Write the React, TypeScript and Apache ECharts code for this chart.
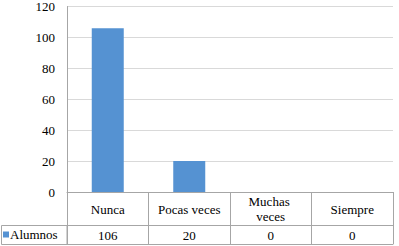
import React, { useEffect, useRef } from "react";
import * as echarts from "echarts";

const categories = ["Nunca", "Pocas veces", "Muchas veces", "Siempre"];
const alumnos = [106, 20, 0, 0];
const seriesName = "Alumnos";
const yTicks = { min: 0, max: 120, interval: 20 };

const FONT = "Liberation Serif";
const BORDER = "#A6A6A6";

export default function App() {
  const ref = useRef<HTMLDivElement>(null);
  useEffect(() => {
    if (!ref.current) return;
    const chart = echarts.init(ref.current, undefined, { renderer: "svg" });
    chart.setOption({
      animation: false,
      grid: { left: 67, right: 6, top: 6, bottom: 54 },
      legend: {
        show: true,
        left: 3,
        top: 228,
        padding: 0,
        icon: "rect",
        itemWidth: 6,
        itemHeight: 6,
        selectedMode: false,
        textStyle: { fontFamily: FONT, fontSize: 13, color: "#000", padding: [0, 0, 0, -4] },
        data: [seriesName],
      },
      xAxis: [
        {
          type: "category",
          data: categories,
          position: "bottom",
          axisLine: { show: true, lineStyle: { color: BORDER, width: 1 } },
          axisTick: { show: true, length: 52, lineStyle: { color: BORDER, width: 1 } },
          axisLabel: {
            interval: 0,
            fontFamily: FONT,
            fontSize: 13,
            color: "#000",
            margin: 17,
            verticalAlign: "middle",
            lineHeight: 15,
            width: 70,
            overflow: "break",
          },
          splitLine: { show: false },
        },
        {
          type: "category",
          data: categories,
          position: "bottom",
          offset: 33,
          axisLine: { show: true, lineStyle: { color: BORDER, width: 1 } },
          axisTick: { show: false },
          axisLabel: {
            interval: 0,
            fontFamily: FONT,
            fontSize: 13,
            color: "#000",
            margin: 10,
            verticalAlign: "middle",
            formatter: (_v: string, i: number) => String(alumnos[i]),
          },
        },
        {
          type: "category",
          data: categories,
          position: "bottom",
          offset: 52,
          axisLine: { show: true, lineStyle: { color: BORDER, width: 1 } },
          axisTick: { show: false },
          axisLabel: { show: false },
        },
      ],
      yAxis: {
        type: "value",
        min: yTicks.min,
        max: yTicks.max,
        interval: yTicks.interval,
        axisLine: { show: true, lineStyle: { color: BORDER, width: 1 } },
        axisTick: { show: false },
        axisLabel: { fontFamily: FONT, fontSize: 13, color: "#000", margin: 12 },
        splitLine: { show: true, lineStyle: { color: "#D9D9D9", width: 1 } },
      },
      graphic: [
        {
          type: "rect",
          shape: { x: 1.5, y: 225.5, width: 65.5, height: 19 },
          style: { fill: "none", stroke: BORDER, lineWidth: 1 },
          silent: true,
        },
      ],
      series: [
        {
          name: seriesName,
          type: "bar",
          data: alumnos,
          barWidth: 32,
          itemStyle: { color: "#5592D2" },
        },
      ],
    });
    return () => chart.dispose();
  }, []);
  return (
    <div
      ref={ref}
      style={{ position: "fixed", left: 0, top: 0, width: 399, height: 246, background: "#fff" }}
    />
  );
}
